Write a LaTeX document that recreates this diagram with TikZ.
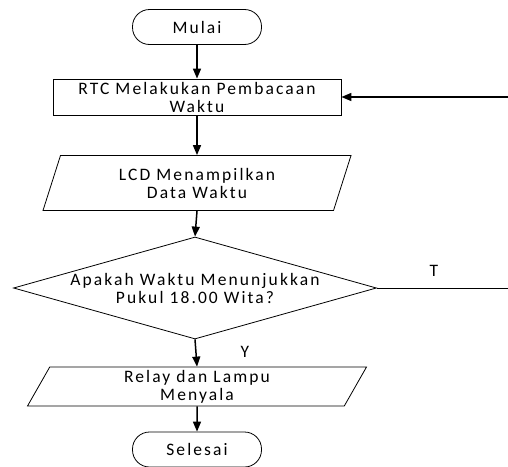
\documentclass[tikz,border=0pt]{standalone}
\usepackage{fontspec}
\setmainfont{Carlito}[LetterSpace=12]
\usetikzlibrary{arrows.meta,shapes.geometric}

\begin{document}
\begin{tikzpicture}[x=1pt,y=-1pt,
  font=\fontsize{17.5}{18}\selectfont,
  terminal/.style={draw, rounded corners=17pt, minimum width=129pt, minimum height=35pt, line width=0.8pt},
  process/.style={draw, minimum width=288pt, minimum height=36pt, align=center, inner sep=0pt, line width=0.8pt},
  io/.style={draw, trapezium, trapezium stretches body, align=center, inner sep=0pt, line width=0.8pt},
  decision/.style={draw, diamond, align=center, inner sep=0pt, line width=0.8pt},
  flow/.style={-{Triangle[length=10pt,width=8pt]}, line width=1.5pt}]
\useasboundingbox (0,0) rectangle (508,466);
% steps
\node[terminal] (mulai) at (197,27) {Mulai};
\node[process] (rtc) at (197,97) {RTC Melakukan Pembacaan\\Waktu};
\node[io, minimum width=308pt, minimum height=55pt, trapezium left angle=60, trapezium right angle=120] (lcd) at (197,183) {LCD Menampilkan\\Data Waktu};
\node[decision, minimum width=363pt, minimum height=102pt, shape aspect=3.56] (cek) at (195,288) {Apakah Waktu Menunjukkan\\Pukul 18.00 Wita?};
\node[io, minimum width=339pt, minimum height=39pt, trapezium left angle=56, trapezium right angle=124] (relay) at (197,386.5) {Relay dan Lampu\\Menyala};
\node[terminal] (selesai) at (197,449.5) {Selesai};
% flow
\draw[flow] (mulai) -- (rtc);
\draw[flow] (rtc) -- (lcd);
\draw[flow] (lcd.south) -- (cek.north);
\draw[flow] (cek.south) -- (relay.north);
\draw[flow] (relay) -- (selesai);
% loop back
\coordinate (tEnd) at (508,288);
\coordinate (rtcIn) at (508,97);
\draw[line width=0.8pt] (cek.east) -- (tEnd);
\draw[flow] (rtcIn) -- (rtc.east);
% labels
\node (tLabel) at (434,271) {T};
\node (yLabel) at (245,352) {Y};
\end{tikzpicture}
\end{document}
